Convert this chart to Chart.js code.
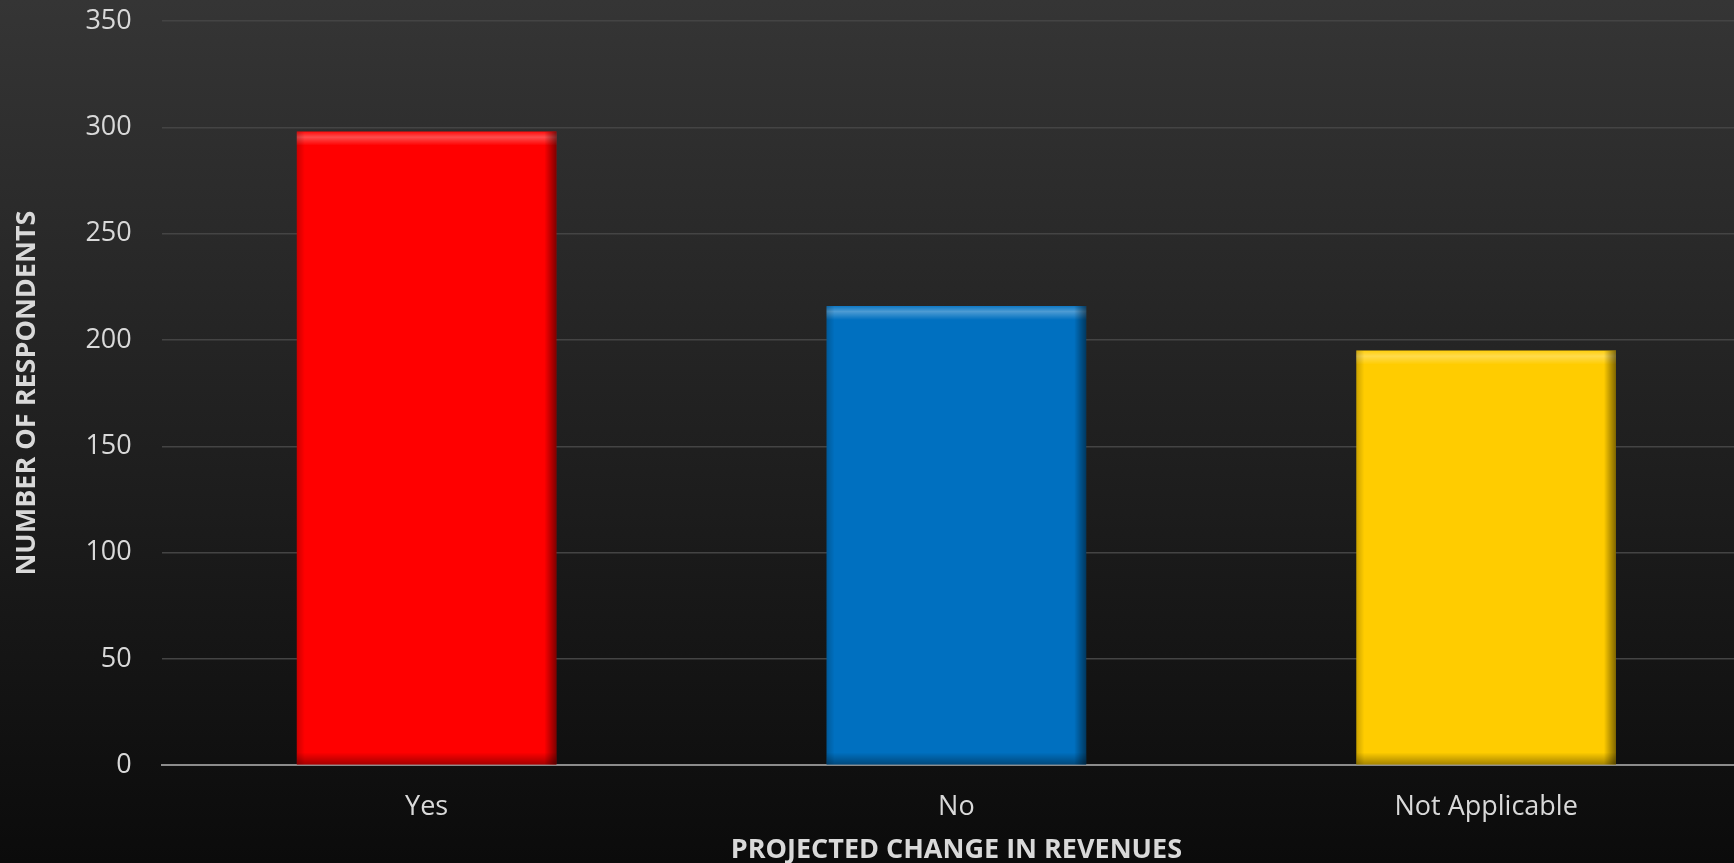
<!DOCTYPE html>
<html>
<head>
<meta charset="utf-8">
<script src="https://cdn.jsdelivr.net/npm/chart.js@4.4.1/dist/chart.umd.min.js"></script>
<style>
  html, body { margin: 0; padding: 0; }
  body {
    width: 1734px; height: 863px; overflow: hidden;
    background: linear-gradient(to bottom, #353535 0%, #222222 45%, #0b0b0b 100%);
  }
  /* plot runs a little past the right edge, as in the original */
  #wrap { width: 1751px; height: 863px; position: relative; }
</style>
</head>
<body>
<div id="wrap"><canvas id="chart"></canvas></div>
<script>
// chart data
const categories = ['Yes', 'No', 'Not Applicable'];
const respondents = [298, 216, 195];
const barColors = ['#ff0000', '#0070c0', '#ffcc00'];
const yTicks = [0, 50, 100, 150, 200, 250, 300, 350];

const textColor = '#d9d9d9';
const fontFamily = "'Open Sans', 'Noto Sans', sans-serif";

// draws a light top edge and dark side edges on each bar, like the bevel look
const bevelPlugin = {
  id: 'bevel',
  afterDatasetsDraw(chart) {
    const ctx = chart.ctx;
    const meta = chart.getDatasetMeta(0);
    meta.data.forEach(bar => {
      const left = bar.x - bar.width / 2;
      const right = bar.x + bar.width / 2;
      const top = bar.y;
      const bottom = bar.base;
      ctx.save();
      // top highlight
      let g = ctx.createLinearGradient(0, top, 0, top + 14);
      g.addColorStop(0, 'rgba(255,255,255,0.05)');
      g.addColorStop(0.4, 'rgba(255,255,255,0.3)');
      g.addColorStop(1, 'rgba(255,255,255,0)');
      ctx.fillStyle = g;
      ctx.fillRect(left, top, bar.width, 14);
      // right shade
      g = ctx.createLinearGradient(right - 12, 0, right, 0);
      g.addColorStop(0, 'rgba(0,0,0,0)');
      g.addColorStop(1, 'rgba(0,0,0,0.5)');
      ctx.fillStyle = g;
      ctx.fillRect(right - 12, top, 12, bottom - top);
      // left soft shade
      g = ctx.createLinearGradient(left, 0, left + 8, 0);
      g.addColorStop(0, 'rgba(0,0,0,0.2)');
      g.addColorStop(1, 'rgba(0,0,0,0)');
      ctx.fillStyle = g;
      ctx.fillRect(left, top, 8, bottom - top);
      // bottom shade
      g = ctx.createLinearGradient(0, bottom - 12, 0, bottom);
      g.addColorStop(0, 'rgba(0,0,0,0)');
      g.addColorStop(1, 'rgba(0,0,0,0.35)');
      ctx.fillStyle = g;
      ctx.fillRect(left, bottom - 12, bar.width, 12);
      ctx.restore();
    });
  }
};

const ctx = document.getElementById('chart');
new Chart(ctx.getContext('2d'), {
  type: 'bar',
  data: {
    labels: categories,
    datasets: [{
      label: 'Number of respondents',
      data: respondents,
      backgroundColor: barColors,
      borderWidth: 0,
      categoryPercentage: 1.0,
      barPercentage: 0.49
    }]
  },
  options: {
    responsive: true,
    maintainAspectRatio: false,
    animation: false,
    layout: { padding: { top: 21, right: 0, left: 11, bottom: -4 } },
    plugins: {
      legend: { display: false },
      tooltip: { enabled: false }
    },
    scales: {
      x: {
        // invisible tick marks give the gap between the axis line and labels
        grid: {
          display: true, drawOnChartArea: false, drawTicks: true,
          tickLength: 26, tickColor: 'rgba(0,0,0,0)'
        },
        border: { display: true, color: '#8c8c8c', width: 2 },
        ticks: {
          color: textColor,
          font: { family: fontFamily, size: 27 },
          padding: 0
        },
        title: {
          display: true,
          text: 'PROJECTED CHANGE IN REVENUES',
          color: textColor,
          font: { family: fontFamily, size: 27, weight: 'bold' },
          padding: { top: 11, bottom: 0 }
        }
      },
      y: {
        min: 0,
        max: 350,
        afterBuildTicks(scale) {
          scale.ticks = yTicks.map(v => ({ value: v }));
        },
        grid: {
          color: '#444444', lineWidth: 1.5, drawTicks: true,
          tickLength: 30, tickColor: 'rgba(0,0,0,0)'
        },
        border: { display: false },
        ticks: {
          color: textColor,
          font: { family: fontFamily, size: 27 },
          padding: 0
        },
        title: {
          display: true,
          text: 'NUMBER OF RESPONDENTS',
          color: textColor,
          font: { family: fontFamily, size: 27, weight: 'bold' },
          padding: { top: 0, bottom: 42 }
        }
      }
    }
  },
  plugins: [bevelPlugin]
});
</script>
</body>
</html>
